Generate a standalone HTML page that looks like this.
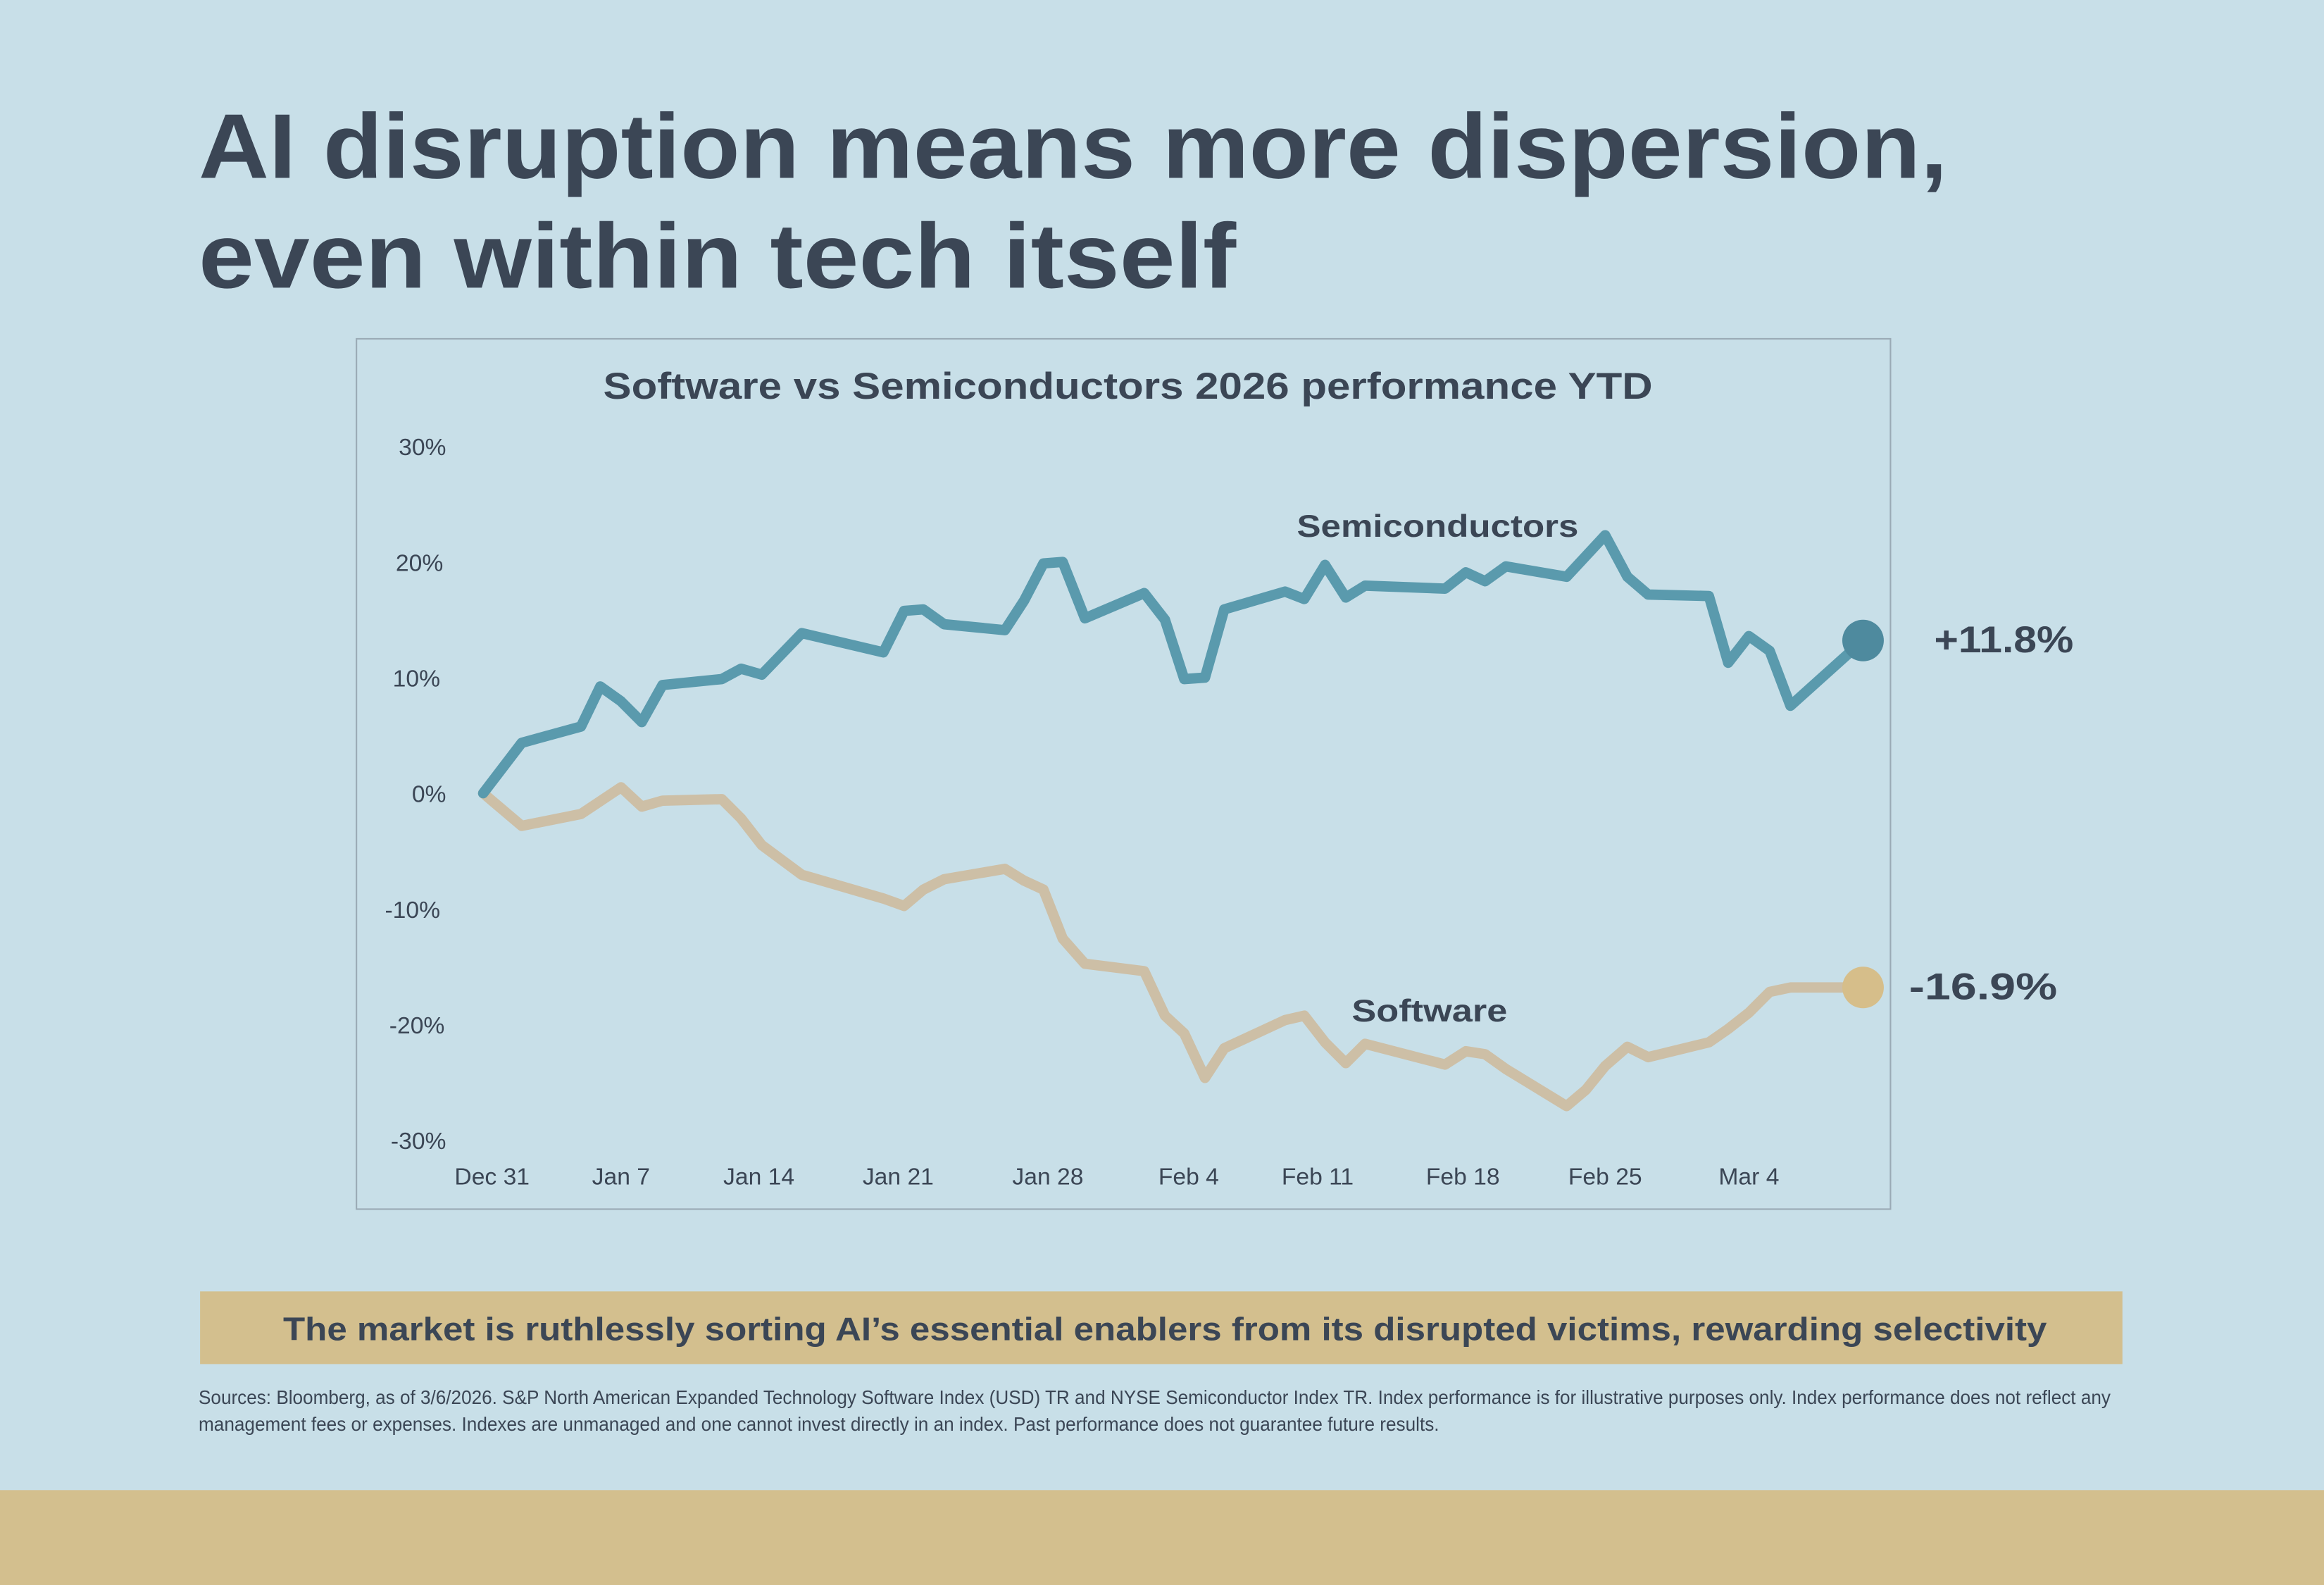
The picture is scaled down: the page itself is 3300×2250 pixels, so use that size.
<!DOCTYPE html>
<html><head><meta charset="utf-8"><style>
html,body{margin:0;padding:0;background:#c8dfe8;}
svg{display:block;}
text{font-family:"Liberation Sans",sans-serif;fill:#3b4655;}
</style></head><body>
<svg width="3300" height="2250" viewBox="0 0 1568 1069" preserveAspectRatio="none" xmlns="http://www.w3.org/2000/svg">
<rect x="0" y="0" width="1568" height="1069" fill="#c8dfe8"/>
<rect x="0" y="1005" width="1568" height="64" fill="#d3bf8e"/>
<text x="134" y="120" font-size="62" font-weight="bold" textLength="1180" lengthAdjust="spacingAndGlyphs">AI disruption means more dispersion,</text>
<text x="134" y="194" font-size="62" font-weight="bold" textLength="700" lengthAdjust="spacingAndGlyphs">even within tech itself</text>
<rect x="240.5" y="228.5" width="1035" height="587" fill="none" stroke="#9aaab5" stroke-width="1"/>
<text x="761" y="269" font-size="25" font-weight="bold" text-anchor="middle" textLength="708" lengthAdjust="spacingAndGlyphs">Software vs Semiconductors 2026 performance YTD</text>
<g font-size="16" text-anchor="end">
<text x="301" y="307">30%</text><text x="299" y="385">20%</text><text x="297" y="463">10%</text><text x="301" y="541">0%</text><text x="297" y="619">-10%</text><text x="300" y="697">-20%</text><text x="301" y="775">-30%</text>
</g>
<g font-size="16" text-anchor="middle">
<text x="332" y="799">Dec 31</text><text x="419" y="799">Jan 7</text><text x="512" y="799">Jan 14</text><text x="606" y="799">Jan 21</text><text x="707" y="799">Jan 28</text><text x="802" y="799">Feb 4</text><text x="889" y="799">Feb 11</text><text x="987" y="799">Feb 18</text><text x="1083" y="799">Feb 25</text><text x="1180" y="799">Mar 4</text>
</g>
<polyline fill="none" stroke="#cdbfa6" stroke-width="7" stroke-linejoin="round" stroke-linecap="round" points="326,535 352,557 392,549 419,531 433,544 447,540 487,539 500,552 514,570 541,590 596,606 610,611 623,600 637,593 678,586 691,594 704,600 717,633 732,650 772,655 786,685 799,697 813,727 826,707 867,688 880,685 894,703 908,717 921,704 975,718 989,709 1002,711 1016,721 1057,746 1070,735 1083,719 1098,706 1112,713 1153,703 1166,694 1180,683 1194,669 1208,666 1257,666"/>
<polyline fill="none" stroke="#5a9aad" stroke-width="7" stroke-linejoin="round" stroke-linecap="round" points="326,535 352,501 392,490 405,463 419,473 433,487 447,462 487,458 500,451 514,455 541,427 596,440 610,412 623,411 637,421 678,425 691,405 704,380 717,379 732,417 772,400 786,418 799,458 813,457 826,411 867,399 880,404 894,381 908,403 921,395 975,397 989,386 1002,392 1016,382 1057,389 1083,361 1098,389 1112,401 1153,402 1166,447 1180,429 1194,439 1208,476 1257,432"/>
<circle cx="1257" cy="432" r="14" fill="#4e8a9e"/>
<circle cx="1257" cy="666" r="14" fill="#d6be8a"/>
<text x="875" y="362" font-size="21" font-weight="bold" textLength="190" lengthAdjust="spacingAndGlyphs">Semiconductors</text>
<text x="912" y="689" font-size="21" font-weight="bold" textLength="105" lengthAdjust="spacingAndGlyphs">Software</text>
<text x="1305" y="440" font-size="25" font-weight="bold" textLength="94" lengthAdjust="spacingAndGlyphs">+11.8%</text>
<text x="1288" y="674" font-size="25" font-weight="bold" textLength="100" lengthAdjust="spacingAndGlyphs">-16.9%</text>
<rect x="135" y="871" width="1297" height="49" fill="#d3bf8e"/>
<text x="786" y="904" font-size="22" font-weight="bold" text-anchor="middle" textLength="1190" lengthAdjust="spacingAndGlyphs">The market is ruthlessly sorting AI’s essential enablers from its disrupted victims, rewarding selectivity</text>
<text x="134" y="947" font-size="13" textLength="1290" lengthAdjust="spacingAndGlyphs">Sources: Bloomberg, as of 3/6/2026. S&amp;P North American Expanded Technology Software Index (USD) TR and NYSE Semiconductor Index TR. Index performance is for illustrative purposes only. Index performance does not reflect any</text>
<text x="134" y="965" font-size="13" textLength="837" lengthAdjust="spacingAndGlyphs">management fees or expenses. Indexes are unmanaged and one cannot invest directly in an index. Past performance does not guarantee future results.</text>
</svg>
</body></html>
